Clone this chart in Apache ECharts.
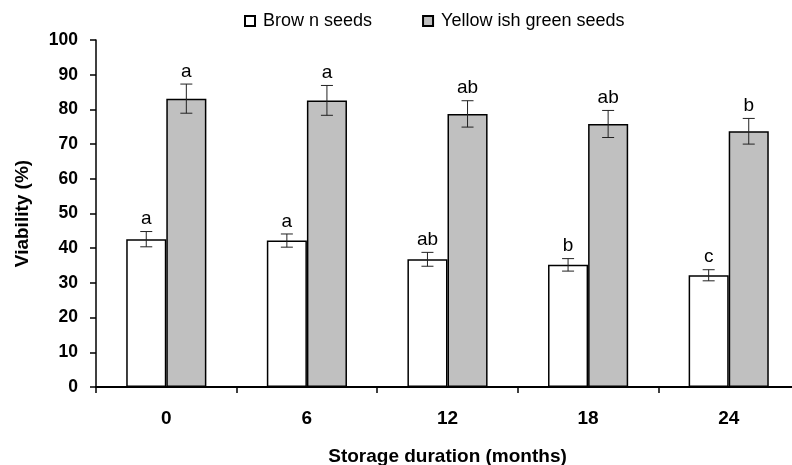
<!DOCTYPE html>
<html>
<head>
<meta charset="utf-8">
<script src="https://cdn.jsdelivr.net/npm/echarts@6/dist/echarts.min.js"></script>
<style>html,body{margin:0;padding:0;background:#fff;}#c{width:792px;height:465px;}</style>
</head>
<body>
<div id="c"></div>
<script>
const categories = ['0', '6', '12', '18', '24'];
const brownValues = [42.6, 42.2, 36.8, 35.2, 32.2];
const brownErrors = [2.2, 1.9, 2.0, 1.8, 1.6];
const brownLetters = ['a', 'a', 'ab', 'b', 'c'];
const greenValues = [83.1, 82.6, 78.7, 75.8, 73.7];
const greenErrors = [4.2, 4.3, 3.8, 3.9, 3.7];
const greenLetters = ['a', 'a', 'ab', 'ab', 'b'];
const yTicks = { min: 0, max: 100, interval: 10 };

const FONT = 'Liberation Sans, Arial, sans-serif';
const BAR_FRAC = 0.285;

function errorSeries(name, values, errors, letters, side) {
  return {
    type: 'custom',
    name: name + ' err',
    silent: true,
    z: 5,
    data: values.map((v, i) => [i, v, errors[i]]),
    renderItem: function (params, api) {
      const i = api.value(0), v = api.value(1), e = api.value(2);
      const band = api.size([1, 0])[0];
      const c = api.coord([i, v]);
      const x = c[0] + side * band * BAR_FRAC / 2;
      const yt = api.coord([i, v + e])[1];
      const yb = api.coord([i, v - e])[1];
      const cap = 6;
      const st = { stroke: '#222', lineWidth: 1 };
      return {
        type: 'group',
        children: [
          { type: 'line', shape: { x1: x, y1: yt, x2: x, y2: yb }, style: st },
          { type: 'line', shape: { x1: x - cap, y1: yt, x2: x + cap, y2: yt }, style: st },
          { type: 'line', shape: { x1: x - cap, y1: yb, x2: x + cap, y2: yb }, style: st },
          { type: 'text', style: { text: letters[i], x: x, y: yt - 3, textAlign: 'center', textVerticalAlign: 'bottom', fontFamily: FONT, fontSize: 19, fill: '#000' } }
        ]
      };
    }
  };
}

const chart = echarts.init(document.getElementById('c'), null, { renderer: 'canvas' });
chart.setOption({
  animation: false,
  backgroundColor: '#fff',
  grid: { left: 96, top: 40, width: 703, height: 347, outerBoundsMode: 'none', containLabel: false },
  legend: {
    left: 239, top: 7,
    itemWidth: 10, itemHeight: 10, itemGap: 50,
    icon: 'rect',
    textStyle: { fontFamily: FONT, fontSize: 18, color: '#000', padding: [0, 0, 0, 3] },
    data: ['Brow n seeds', 'Yellow ish green seeds']
  },
  xAxis: {
    type: 'category',
    data: categories,
    name: 'Storage duration (months)',
    nameLocation: 'middle',
    nameGap: 60,
    nameTextStyle: { fontFamily: FONT, fontSize: 19, fontWeight: 'bold', color: '#000' },
    axisLine: { lineStyle: { color: '#000', width: 2 } },
    axisTick: { show: true, inside: false, length: 6, lineStyle: { color: '#000', width: 1.5 } },
    axisLabel: { margin: 22, fontFamily: FONT, fontSize: 19, fontWeight: 'bold', color: '#000' },
    splitLine: { show: false }
  },
  yAxis: {
    type: 'value',
    min: yTicks.min, max: yTicks.max, interval: yTicks.interval,
    name: 'Viability (%)',
    nameLocation: 'middle',
    nameGap: 64,
    nameTextStyle: { fontFamily: FONT, fontSize: 19, fontWeight: 'bold', color: '#000' },
    axisLine: { show: true, lineStyle: { color: '#000', width: 1.5 } },
    axisTick: { show: true, inside: false, length: 6, lineStyle: { color: '#000', width: 1.5 } },
    axisLabel: { margin: 18, fontFamily: FONT, fontSize: 17.5, fontWeight: 'bold', color: '#000' },
    splitLine: { show: false }
  },
  series: [
    {
      name: 'Brow n seeds', type: 'bar', data: brownValues,
      barWidth: (BAR_FRAC * 100) + '%', barGap: '0%',
      itemStyle: { color: '#ffffff', borderColor: '#000', borderWidth: 1.5 }
    },
    {
      name: 'Yellow ish green seeds', type: 'bar', data: greenValues,
      barWidth: (BAR_FRAC * 100) + '%', barGap: '0%',
      itemStyle: { color: '#c0c0c0', borderColor: '#000', borderWidth: 1.5 }
    },
    errorSeries('Brow n seeds', brownValues, brownErrors, brownLetters, -1),
    errorSeries('Yellow ish green seeds', greenValues, greenErrors, greenLetters, 1)
  ]
});
</script>
</body>
</html>
